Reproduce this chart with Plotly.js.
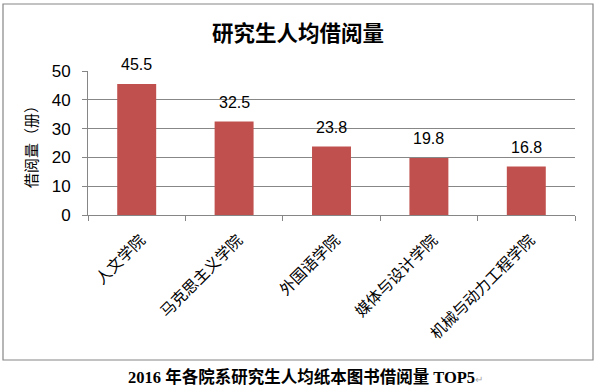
<!DOCTYPE html>
<html>
<head>
<meta charset="utf-8">
<script src="https://cdn.plot.ly/plotly-3.0.1.min.js"></script>
<style>html,body{margin:0;padding:0;background:#fff;}</style>
</head>
<body>
<div id="chart" style="width:595px;height:386px;"></div>
<script>
var categories = ["人文学院", "马克思主义学院", "外国语学院", "媒体与设计学院", "机械与动力工程学院"];
var values = [45.5, 32.5, 23.8, 19.8, 16.8];
var valueLabels = ["45.5", "32.5", "23.8", "19.8", "16.8"];
var yTicks = [0, 10, 20, 30, 40, 50];

var cjk = '"Noto Sans CJK SC", sans-serif';
var num = '"Liberation Sans", Arial, sans-serif';

var trace = {
  type: 'bar',
  x: categories,
  y: values,
  marker: {color: '#C0504D'},
  hoverinfo: 'skip'
};

var annotations = categories.map(function(c, i){
  return {
    x: c, y: values[i], xref: 'x', yref: 'y',
    text: valueLabels[i], showarrow: false,
    yanchor: 'middle', yshift: 19,
    font: {family: num, size: 16, color: '#000'}
  };
});

annotations.push({
  xref: 'paper', yref: 'paper', x: 0.4476, y: -1.125,
  xanchor: 'center', yanchor: 'middle', showarrow: false,
  text: '<b>2016 年各院系研究生人均纸本图书借阅量 TOP5</b><span style="color:#aaa;font-size:10px">↵</span>',
  font: {family: '"Liberation Serif", ' + cjk, size: 16.5, color: '#000'}
});

var layout = {
  width: 595, height: 386,
  margin: {l: 88, r: 20, t: 71, b: 171},
  paper_bgcolor: '#fff', plot_bgcolor: '#fff',
  showlegend: false,
  bargap: 0.6,
  title: {
    text: '<b>研究生人均借阅量</b>',
    font: {family: cjk, size: 21.5, color: '#000'},
    x: 298 / 595, xref: 'container', xanchor: 'center',
    y: 1 - 33/386, yref: 'container', yanchor: 'middle'
  },
  xaxis: {
    type: 'category',
    tickangle: -45,
    tickfont: {family: cjk, size: 15.5, color: '#000'},
    ticklabelstandoff: 9,
    ticklabelshift: 4,
    showline: true, linecolor: '#868686', linewidth: 1,
    ticks: 'outside', tickson: 'boundaries', ticklen: 5, tickcolor: '#868686',
    showgrid: false, zeroline: false, fixedrange: true
  },
  yaxis: {
    range: [0, 50],
    tickvals: yTicks,
    ticktext: yTicks.map(String),
    tickfont: {family: num, size: 17, color: '#000'},
    showline: true, linecolor: '#868686', linewidth: 1,
    ticks: 'outside', ticklen: 5, tickcolor: '#868686',
    ticklabelstandoff: 8,
    showgrid: true, gridcolor: '#878787', gridwidth: 1,
    zeroline: false, fixedrange: true,
    title: {text: '借阅量（册）', font: {family: cjk, size: 15, color: '#000'}, standoff: 10}
  },
  annotations: annotations,
  shapes: [{
    type: 'rect', xref: 'paper', yref: 'paper',
    x0: (3 - 88) / 487, x1: (593 - 88) / 487,
    y0: (215 - 360) / 144, y1: (215 - 4) / 144,
    line: {color: '#868686', width: 1.2}, fillcolor: 'rgba(0,0,0,0)', layer: 'below'
  }]
};

Plotly.newPlot('chart', [trace], layout, {displayModeBar: false, staticPlot: true});
</script>
</body>
</html>
